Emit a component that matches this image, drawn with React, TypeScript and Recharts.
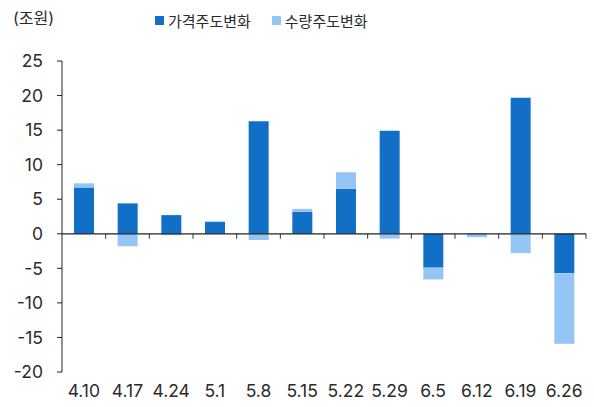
import * as React from 'react';
import { BarChart, Bar, XAxis, YAxis, Legend, ReferenceLine } from 'recharts';

const dates = ['4.10', '4.17', '4.24', '5.1', '5.8', '5.15', '5.22', '5.29', '6.5', '6.12', '6.19', '6.26'];
const priceChange = [6.7, 4.4, 2.7, 1.7, 16.3, 3.2, 6.5, 14.9, -4.9, -0.1, 19.7, -5.7];
const volumeChange = [0.6, -1.8, -0.2, 0.1, -0.9, 0.4, 2.4, -0.7, -1.7, -0.4, -2.8, -10.2];
const yTicks = [-20, -15, -10, -5, 0, 5, 10, 15, 20, 25];

const data = dates.map((d, i) => ({ name: d, price: priceChange[i], volume: volumeChange[i] }));

const FONT = 'Inter, "Noto Sans CJK KR", sans-serif';
const TEXT = '#2b2b2b';
const DARK = '#1170c6';
const LIGHT = '#94c5f5';

// zero line with small tick marks at the category boundaries
const ZeroLine = (props: any) => {
    const { x1, y1, x2, y2 } = props;
    const n = dates.length;
    const step = (x2 - x1) / n;
    const marks = [];
    for (let i = 1; i <= n; i++) {
        const x = x1 + step * i;
        marks.push(<line key={i} x1={x} y1={y1} x2={x} y2={y1 + 5} stroke="#333" strokeWidth={1} />);
    }
    return (
        <g>
            <line x1={x1} y1={y1} x2={x2} y2={y2} stroke="#222" strokeWidth={1.2} />
            {marks}
        </g>
    );
};

const LegendContent = (props: any) => {
    const { payload } = props;
    return (
        <div style={{ display: 'flex', gap: 21, height: 20, alignItems: 'center', fontFamily: FONT, fontSize: 15, color: TEXT }}>
            {(payload || []).map((p: any) => (
                <div key={p.value} style={{ display: 'flex', alignItems: 'center' }}>
                    <span style={{ display: 'inline-block', width: 9, height: 9, background: p.color, marginRight: 4 }} />
                    <span>{p.value}</span>
                </div>
            ))}
        </div>
    );
};

const App: React.FC = () => {
    return (
        <div style={{ position: 'absolute', left: 0, top: 0, width: 594, height: 407, fontFamily: FONT }}>
            <div style={{ position: 'absolute', left: 13, top: 5, fontSize: 16, color: TEXT }}>(조원)</div>
            <BarChart
                width={594}
                height={407}
                data={data}
                stackOffset="sign"
                barSize={20}
                margin={{ top: 41, right: 8, left: 0, bottom: 5 }}
            >
                <XAxis
                    dataKey="name"
                    axisLine={false}
                    tickLine={false}
                    tickSize={0}
                    tickMargin={13}
                    interval={0}
                    height={30}
                    tick={{ fontSize: 17.5, fill: TEXT, fontFamily: FONT }}
                />
                <YAxis
                    domain={[-20, 25]}
                    ticks={yTicks}
                    interval={0}
                    width={62}
                    axisLine={{ stroke: '#222' }}
                    tickLine={{ stroke: '#222' }}
                    tickSize={5}
                    tickMargin={14}
                    tick={{ fontSize: 17.5, fill: TEXT, fontFamily: FONT }}
                />
                <Legend
                    verticalAlign="top"
                    align="left"
                    wrapperStyle={{ top: 10, left: 155, width: 'auto' }}
                    content={<LegendContent />}
                />
                <Bar dataKey="price" name="가격주도변화" stackId="a" fill={DARK} isAnimationActive={false} />
                <Bar dataKey="volume" name="수량주도변화" stackId="a" fill={LIGHT} isAnimationActive={false} />
                <ReferenceLine y={0} shape={<ZeroLine />} />
            </BarChart>
        </div>
    );
};

export default App;
